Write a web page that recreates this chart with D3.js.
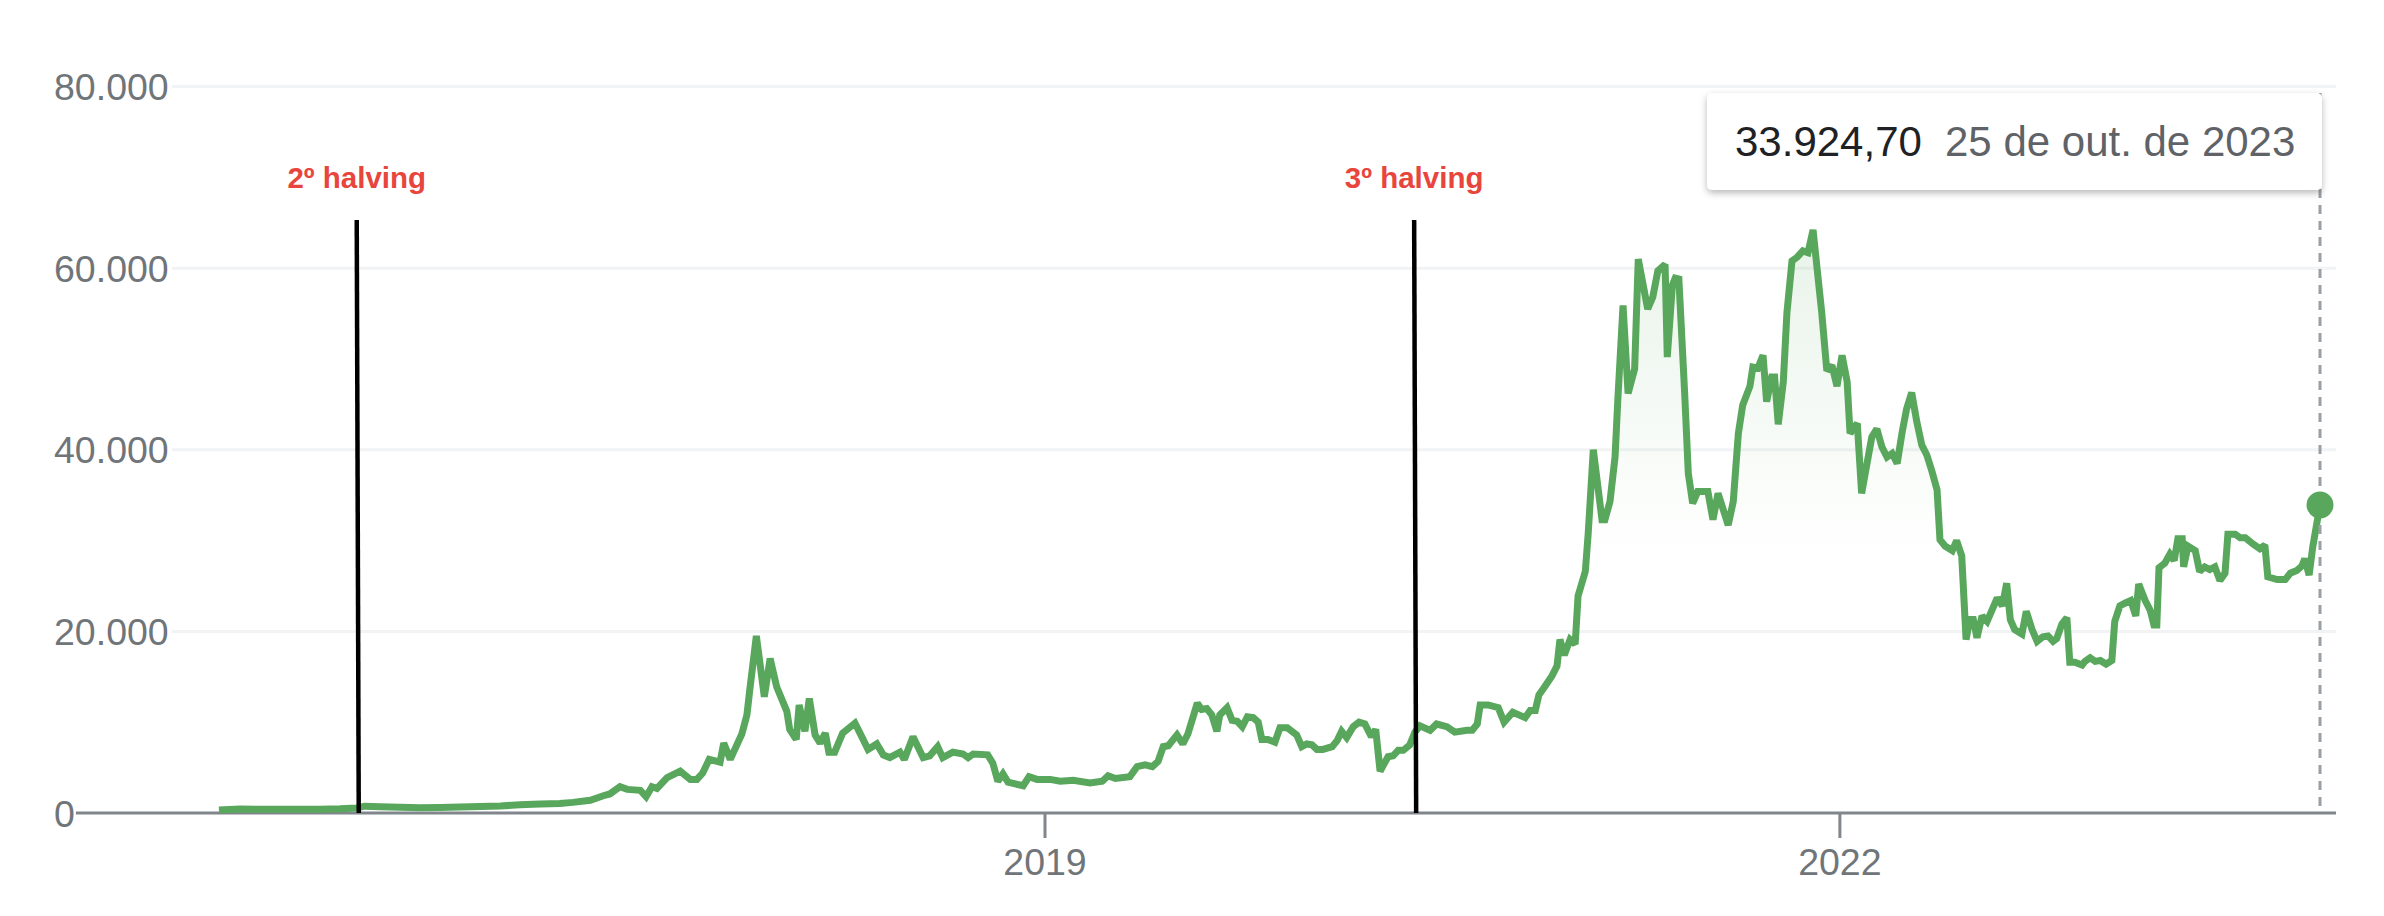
<!DOCTYPE html>
<html>
<head>
<meta charset="utf-8">
<script src="https://cdn.jsdelivr.net/npm/d3@7/dist/d3.min.js"></script>
<style>
  html, body { margin: 0; padding: 0; background: #ffffff; }
  svg { display: block; }
  text { font-family: "Liberation Sans", Arial, Helvetica, sans-serif; }
</style>
</head>
<body>
<svg id="chart" width="2384" height="916"></svg>
<script>
// ---------------- DATA ----------------
const dates = [
"2015-11-19","2015-12-18","2016-01-15","2016-02-11","2016-03-10","2016-04-06","2016-05-04","2016-05-27",
"2016-06-07","2016-06-28","2016-07-26","2016-08-22","2016-09-19","2016-10-16","2016-11-13","2016-12-11",
"2017-01-07","2017-02-04","2017-03-03","2017-03-21","2017-04-14","2017-05-02","2017-05-11","2017-05-25",
"2017-06-04","2017-06-22","2017-06-30","2017-07-08","2017-07-15","2017-07-29","2017-08-16","2017-08-30",
"2017-09-08","2017-09-16","2017-09-25","2017-10-10","2017-10-15","2017-10-24","2017-11-09","2017-11-16",
"2017-11-20","2017-11-29","2017-12-10","2017-12-18","2017-12-27","2018-01-10","2018-01-14","2018-01-23",
"2018-01-27","2018-02-04","2018-02-10","2018-02-18","2018-02-25","2018-03-04","2018-03-09","2018-03-17",
"2018-03-28","2018-04-14","2018-04-24","2018-05-02","2018-05-14","2018-05-23","2018-06-01","2018-06-15",
"2018-06-21","2018-07-03","2018-07-17","2018-07-26","2018-08-06","2018-08-13","2018-08-27","2018-09-10",
"2018-09-17","2018-09-24","2018-10-14","2018-10-21","2018-10-28","2018-11-04","2018-11-11","2018-11-21",
"2018-12-02","2018-12-10","2018-12-21","2019-01-08","2019-01-22","2019-02-09","2019-03-04","2019-03-21",
"2019-03-29","2019-04-08","2019-04-28","2019-05-08","2019-05-19","2019-05-29","2019-06-06","2019-06-13",
"2019-06-20","2019-07-02","2019-07-10","2019-07-17","2019-07-30","2019-08-05","2019-08-12","2019-08-19",
"2019-08-26","2019-08-30","2019-09-09","2019-09-16","2019-09-23","2019-09-30","2019-10-07","2019-10-15",
"2019-10-22","2019-10-27","2019-11-04","2019-11-14","2019-11-21","2019-12-01","2019-12-14","2019-12-21",
"2019-12-28","2020-01-04","2020-01-11","2020-01-19","2020-02-01","2020-02-08","2020-02-14","2020-02-21",
"2020-03-01","2020-03-09","2020-03-17","2020-03-26","2020-04-01","2020-04-07","2020-04-18","2020-04-25",
"2020-05-02","2020-05-09","2020-05-18","2020-05-25","2020-06-01","2020-06-15","2020-06-24","2020-07-08",
"2020-07-19","2020-08-05","2020-08-12","2020-08-19","2020-08-23","2020-09-03","2020-09-17","2020-09-25",
"2020-10-07","2020-10-24","2020-10-31","2020-11-07","2020-11-12","2020-11-20","2020-11-30","2020-12-07",
"2020-12-11","2020-12-17","2020-12-25","2021-01-01","2021-01-05","2021-01-15","2021-01-19","2021-01-26",
"2021-02-07","2021-02-11","2021-02-18","2021-02-25","2021-03-01","2021-03-08","2021-03-15","2021-03-24",
"2021-03-29","2021-04-11","2021-04-18","2021-04-25","2021-05-05","2021-05-08","2021-05-15","2021-05-19",
"2021-05-24","2021-06-01","2021-06-06","2021-06-12","2021-06-19","2021-07-03","2021-07-10","2021-07-17",
"2021-07-31","2021-08-07","2021-08-14","2021-08-20","2021-08-30","2021-09-03","2021-09-10","2021-09-17",
"2021-09-22","2021-09-29","2021-10-03","2021-10-08","2021-10-15","2021-10-20","2021-10-27","2021-11-03",
"2021-11-11","2021-11-18","2021-11-25","2021-11-30","2021-12-07","2021-12-14","2021-12-21","2021-12-28",
"2022-01-04","2022-01-11","2022-01-15","2022-01-25","2022-01-31","2022-02-07","2022-02-14","2022-02-21",
"2022-02-28","2022-03-07","2022-03-14","2022-03-21","2022-03-28","2022-04-03","2022-04-10","2022-04-17",
"2022-04-24","2022-05-01","2022-05-08","2022-05-15","2022-05-19","2022-05-26","2022-06-05","2022-06-11",
"2022-06-18","2022-06-24","2022-06-29","2022-07-04","2022-07-09","2022-07-16","2022-07-23","2022-07-30",
"2022-08-06","2022-08-13","2022-08-19","2022-08-24","2022-08-30","2022-09-09","2022-09-15","2022-09-23",
"2022-09-30","2022-10-08","2022-10-15","2022-10-22","2022-10-27","2022-11-03","2022-11-10","2022-11-14",
"2022-11-21","2022-12-01","2022-12-05","2022-12-12","2022-12-19","2022-12-26","2023-01-03","2023-01-11",
"2023-01-15","2023-01-22","2023-01-29","2023-02-06","2023-02-13","2023-02-17","2023-02-26","2023-03-05",
"2023-03-10","2023-03-14","2023-03-17","2023-03-25","2023-04-01","2023-04-07","2023-04-12","2023-04-18",
"2023-04-20","2023-04-26","2023-05-06","2023-05-12","2023-05-19","2023-05-26","2023-06-02","2023-06-09",
"2023-06-16","2023-06-20","2023-06-30","2023-07-07","2023-07-14","2023-07-25","2023-08-03","2023-08-10",
"2023-08-14","2023-08-27","2023-09-07","2023-09-14","2023-09-23","2023-09-30","2023-10-04","2023-10-10",
"2023-10-15","2023-10-25"
];
const prices = [
330,430,400,400,415,425,460,550,
750,680,620,580,610,650,720,780,
900,980,1050,1170,1400,1900,2100,2900,
2600,2500,1800,2900,2700,3900,4600,3700,
3700,4400,5900,5600,7700,5900,8700,10800,
13600,19500,12800,17000,13900,11200,9200,8100,
11900,9000,12600,8600,7700,8800,6700,6700,
8800,9900,8300,7000,7600,6400,6100,6700,
5900,8400,6100,6300,7300,6100,6700,6500,
6100,6500,6400,5500,3500,4300,3400,3200,
3000,4000,3700,3700,3500,3600,3300,3500,
4100,3800,4000,5100,5300,5100,5700,7300,
7400,8600,7600,8700,12100,11400,11500,10800,
9000,10800,11600,10200,10100,9500,10600,10500,
10000,8100,8100,7800,9400,9400,8600,7300,
7600,7500,7000,7000,7300,8000,9000,8300,
9500,10000,9800,8400,9200,4600,6200,6300,
6900,6900,7500,8900,9600,9100,9800,9500,
8900,9100,9100,9800,11900,11900,11600,10000,
11100,10500,11300,11300,13000,13900,15100,16200,
19100,17400,19100,18600,23900,26600,30800,40000,
32300,32300,34300,39200,45800,55900,46200,48900,
61000,55500,56800,59700,60400,50200,58100,58900,
58800,46200,37400,34100,35400,35400,32300,35200,
31700,34300,41800,44900,47000,49100,49000,50400,
45300,48000,48000,42800,47500,55100,60800,61200,
61900,61700,64200,60400,55100,48700,49300,47000,
50400,47500,41800,42900,35200,38300,41400,42300,
40300,39200,39600,38500,42000,44500,46300,43100,
40500,39400,37600,35600,30100,29400,28900,30000,
28300,19100,21300,21300,19300,21700,21100,22400,
23700,22800,25300,21300,20200,19700,22200,20200,
18900,19400,19500,18900,19200,20800,21500,16600,
16600,16300,16700,17100,16700,16800,16400,16800,
21100,22800,23100,23400,21700,25200,23400,22300,
20700,20700,27000,27500,28500,27800,30200,30200,
27100,29400,28900,26600,27100,26800,27100,25600,
26400,30700,30700,30300,30300,29600,29100,29500,
26000,25700,25700,26400,26700,27200,28000,26200,
29300,33924.70
];
const yTickValues = [0, 20000, 40000, 60000, 80000];
const xTickDates = ["2019-01-01", "2022-01-01"];
const halvingDates = ["2016-05-27", "2020-05-24"];
const halvingLabels = ["2\u00BA halving", "3\u00BA halving"];
const monthAbbrPt = ["jan.","fev.","mar.","abr.","mai.","jun.","jul.","ago.","set.","out.","nov.","dez."];

// ---------------- SETUP ----------------
const parse = d3.timeParse("%Y-%m-%d");
const series = dates.map((d, i) => ({ date: parse(d), value: prices[i] }));
const ptBR = d3.formatLocale({ decimal: ",", thousands: ".", grouping: [3], currency: ["R$", ""] });
const fmtTick = ptBR.format(",.0f");
const fmtValue = ptBR.format(",.2f");

const GREEN = "#58a75c";
const svg = d3.select("#chart");

const x = d3.scaleTime()
  .domain([parse("2019-01-01"), parse("2023-10-25")])
  .range([1045, 2320]);
const y = d3.scaleLinear().domain([0, 80000]).range([813, 86.5]);

const gridRight = 2336;
const labelX = 54;

// defs
const defs = svg.append("defs");
const grad = defs.append("linearGradient")
  .attr("id", "areaGrad").attr("gradientUnits", "userSpaceOnUse")
  .attr("x1", 0).attr("x2", 0).attr("y1", y(66000)).attr("y2", y(28000));
grad.append("stop").attr("offset", 0).attr("stop-color", GREEN).attr("stop-opacity", 0.14);
grad.append("stop").attr("offset", 1).attr("stop-color", GREEN).attr("stop-opacity", 0);
const shadow = defs.append("filter").attr("id", "shadow")
  .attr("x", "-10%").attr("y", "-30%").attr("width", "120%").attr("height", "170%");
shadow.append("feDropShadow").attr("dx", 0).attr("dy", 3).attr("stdDeviation", 3.5)
  .attr("flood-color", "#000").attr("flood-opacity", 0.28);

// ---------------- Y AXIS + GRID ----------------
const yAxisG = svg.append("g");
yTickValues.forEach(v => {
  const t = yAxisG.append("text")
    .attr("x", labelX).attr("y", y(v)).attr("dy", "0.36em")
    .attr("font-size", 37.5).attr("fill", "#70757a")
    .text(fmtTick(v));
  const w = t.node().getComputedTextLength();
  if (v === 0) {
    yAxisG.append("line")
      .attr("x1", labelX + w + 1).attr("x2", gridRight)
      .attr("y1", y(v)).attr("y2", y(v))
      .attr("stroke", "#80868b").attr("stroke-width", 3);
  } else {
    yAxisG.insert("line", "text")
      .attr("x1", labelX + w + 3).attr("x2", gridRight)
      .attr("y1", y(v)).attr("y2", y(v))
      .attr("stroke", "#f1f3f4").attr("stroke-width", 3);
  }
});

// ---------------- X AXIS TICKS ----------------
const xAxisG = svg.append("g");
xTickDates.forEach(ds => {
  const d = parse(ds);
  xAxisG.append("line")
    .attr("x1", x(d)).attr("x2", x(d)).attr("y1", y(0)).attr("y2", y(0) + 25)
    .attr("stroke", "#80868b").attr("stroke-width", 3);
  xAxisG.append("text")
    .attr("x", x(d)).attr("y", 875).attr("text-anchor", "middle")
    .attr("font-size", 37.5).attr("fill", "#70757a")
    .text(d3.timeFormat("%Y")(d));
});

// ---------------- AREA + LINE ----------------
const area = d3.area().x(d => x(d.date)).y0(y(0) - 2).y1(d => y(d.value));
svg.append("path").datum(series).attr("d", area).attr("fill", "url(#areaGrad)");

const line = d3.line().x(d => x(d.date)).y(d => y(d.value));
svg.append("path").datum(series).attr("d", line)
  .attr("fill", "none").attr("stroke", GREEN).attr("stroke-width", 7)
  .attr("stroke-linejoin", "miter").attr("stroke-miterlimit", 2).attr("stroke-linecap", "butt");

// ---------------- HALVING ANNOTATIONS ----------------
const hal = svg.append("g");
halvingDates.forEach((ds, i) => {
  const hx = x(parse(ds));
  hal.append("line")
    .attr("x1", hx).attr("x2", hx + 2).attr("y1", 220).attr("y2", y(0))
    .attr("stroke", "#000").attr("stroke-width", 4.5);
  hal.append("text")
    .attr("x", hx).attr("y", 188).attr("text-anchor", "middle")
    .attr("font-size", 29.5).attr("font-weight", "bold").attr("fill", "#e8453c")
    .text(halvingLabels[i]);
});

// ---------------- HOVER MARKER + TOOLTIP ----------------
const last = series[series.length - 1];
const lx = x(last.date), ly = y(last.value);
svg.append("line")
  .attr("x1", lx).attr("x2", lx).attr("y1", 93).attr("y2", y(0))
  .attr("stroke", "#9aa0a6").attr("stroke-width", 3).attr("stroke-dasharray", "9,7");
svg.append("circle").attr("cx", lx).attr("cy", ly).attr("r", 13.5).attr("fill", GREEN);

const boxW = 615, boxH = 97;
const boxX = lx + 2 - boxW, boxY = 93;
const tip = svg.append("g");
tip.append("rect")
  .attr("x", boxX).attr("y", boxY).attr("width", boxW).attr("height", boxH)
  .attr("rx", 5).attr("fill", "#fff").attr("filter", "url(#shadow)");
tip.append("text")
  .attr("x", boxX + 28).attr("y", boxY + 63)
  .attr("font-size", 42).attr("fill", "#202124")
  .text(fmtValue(last.value));
const ld = last.date;
tip.append("text")
  .attr("x", boxX + 238).attr("y", boxY + 63)
  .attr("font-size", 42).attr("fill", "#5f6368")
  .text(`${ld.getDate()} de ${monthAbbrPt[ld.getMonth()]} de ${ld.getFullYear()}`);
</script>
</body>
</html>
